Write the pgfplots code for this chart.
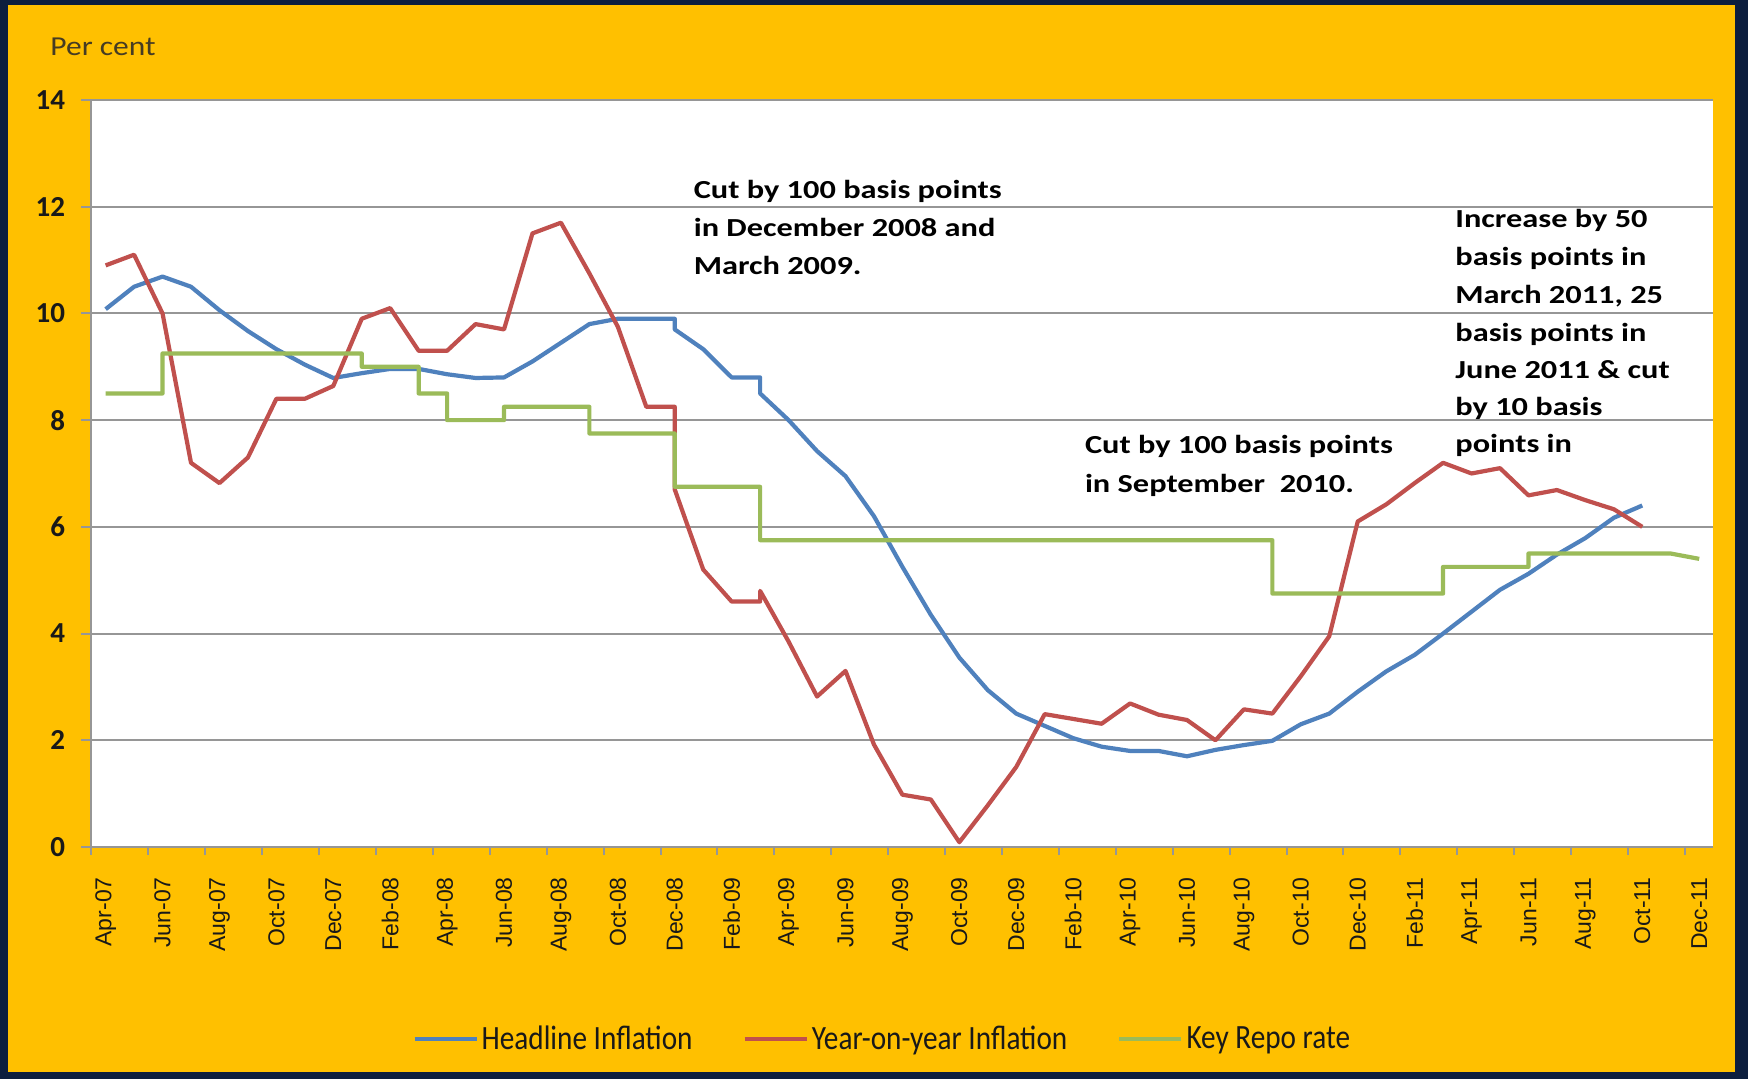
\documentclass[border=0pt]{standalone}
\usepackage{pgfplots}
\pgfplotsset{compat=1.18}
\usepackage{fontspec}
\setmainfont{Carlito}
\newfontfamily\arialfont{Liberation Sans}
\newfontfamily\legfont[FakeStretch=0.86]{Carlito}
\newfontfamily\annfont[FakeStretch=1.245]{Carlito}
\newfontfamily\pcfont[FakeStretch=1.15]{Carlito}

\definecolor{frame}{RGB}{12,30,62}
\definecolor{gold}{RGB}{255,192,0}
\definecolor{headline}{RGB}{79,129,189}
\definecolor{yoy}{RGB}{192,80,77}
\definecolor{repo}{RGB}{155,187,89}
\definecolor{gridgray}{RGB}{150,150,150}
\definecolor{labelink}{RGB}{25,25,25}
\definecolor{unitink}{RGB}{70,60,35}

\begin{document}
\begin{tikzpicture}
\useasboundingbox (0,0) rectangle (874pt,539.5pt);
% slide frame and gold panel
\fill[frame] (0,0) rectangle (874pt,539.5pt);
\fill[gold] (4pt,3.5pt) rectangle (867.5pt,537pt);

\node[anchor=base west, font=\pcfont\fontsize{13.7}{14}\selectfont, text=unitink, inner sep=0pt]
  at (25pt,511.7pt) {Per cent};

\begin{axis}[
  at={(45.7pt,116pt)}, anchor=south west,
  scale only axis, width=811pt, height=373.5pt,
  xmin=-0.5, xmax=56.5, ymin=0, ymax=14,
  axis background/.style={fill=white},
  axis lines*=left,
  axis line style={-, draw=gridgray, line width=1pt},
  every outer x axis line/.append style={-},
  every outer y axis line/.append style={-},
  ymajorgrids,
  grid style={draw=gridgray, line width=1pt},
  ytick={0,2,...,14},
  tick align=outside,
  major tick length=5pt,
  minor tick length=4pt,
  tick style={draw=gridgray, line width=1pt},
  major x tick style={draw=none},
  xtick={0,2,...,56},
  xticklabels={Apr-07,Jun-07,Aug-07,Oct-07,Dec-07,Feb-08,Apr-08,Jun-08,Aug-08,Oct-08,Dec-08,Feb-09,Apr-09,Jun-09,Aug-09,Oct-09,Dec-09,Feb-10,Apr-10,Jun-10,Aug-10,Oct-10,Dec-10,Feb-11,Apr-11,Jun-11,Aug-11,Oct-11,Dec-11},
  minor xtick={-0.5,1.5,...,55.5},
  xticklabel style={font=\arialfont\fontsize{11.5}{12}\selectfont, text=labelink, rotate=90, anchor=east, inner sep=0pt},
  xticklabel shift=10pt,
  yticklabel style={font=\bfseries\fontsize{14.5}{15}\selectfont, text=labelink, anchor=east, inner sep=0pt},
  yticklabel shift=8pt,
  /pgf/number format/assume math mode=true,
  legend columns=3,
  legend cell align=left,
  legend image code/.code={\draw[#1] (0pt,0pt) -- (31pt,0pt);},
  legend style={draw=none, fill=none, at={(0.1977,-0.257)}, anchor=west,
    inner sep=0pt, nodes={inner sep=0pt, text=labelink},
    font=\legfont\fontsize{17}{18}\selectfont,
    /tikz/every odd column/.append style={column sep=1.5pt},
    /tikz/every even column/.append style={column sep=25pt}},
  every axis plot/.append style={line width=2.1pt, line join=round, no markers},
]

% Headline inflation
\addplot[headline] coordinates {
(0,10.08) (1,10.5) (2,10.69) (3,10.5) (4,10.06) (5,9.67) (6,9.33) (7,9.04)
(8,8.79) (9,8.88) (10,8.96) (11,8.96) (12,8.86) (13,8.79) (14,8.8) (15,9.1)
(16,9.45) (17,9.8) (18,9.9) (19,9.9) (20,9.9) (20,9.7) (21,9.33) (22,8.8)
(23,8.8) (23,8.5) (24,8.0) (25,7.42) (26,6.95) (27,6.2) (28,5.25) (29,4.35)
(30,3.55) (31,2.94) (32,2.5) (33,2.27) (34,2.04) (35,1.88) (36,1.8) (37,1.8)
(38,1.7) (39,1.82) (40,1.91) (41,1.99) (42,2.3) (43,2.5) (44,2.91) (45,3.29)
(46,3.6) (47,4.0) (48,4.41) (49,4.82) (50,5.12) (51,5.48) (52,5.79) (53,6.17)
(54,6.4)
};
\addlegendentry{Headline Inflation}

% Year-on-year inflation
\addplot[yoy] coordinates {
(0,10.9) (1,11.1) (2,10.0) (3,7.2) (4,6.82) (5,7.3) (6,8.4) (7,8.4)
(8,8.64) (9,9.9) (10,10.1) (11,9.3) (12,9.3) (13,9.8) (14,9.7) (15,11.5)
(16,11.7) (17,10.75) (18,9.75) (19,8.25) (20,8.25) (20,6.7) (21,5.2) (22,4.6)
(23,4.6) (23,4.8) (24,3.85) (25,2.82) (26,3.3) (27,1.92) (28,0.98) (29,0.89)
(30,0.09) (31,0.78) (32,1.5) (33,2.49) (34,2.4) (35,2.31) (36,2.69) (37,2.48)
(38,2.38) (39,2.0) (40,2.58) (41,2.5) (42,3.2) (43,3.95) (44,6.1) (45,6.42)
(46,6.82) (47,7.2) (48,7.0) (49,7.1) (50,6.59) (51,6.69) (52,6.5) (53,6.33)
(54,6.0)
};
\addlegendentry{Year-on-year Inflation}

% Key repo rate (policy steps)
\addplot[repo] coordinates {
(0,8.5) (2,8.5) (2,9.25) (9,9.25) (9,9.0) (11,9.0) (11,8.5) (12,8.5)
(12,8.0) (14,8.0) (14,8.25) (17,8.25) (17,7.75) (20,7.75) (20,6.75) (23,6.75)
(23,5.75) (41,5.75) (41,4.75) (47,4.75) (47,5.25) (50,5.25) (50,5.5) (55,5.5)
(56,5.4)
};
\addlegendentry{Key Repo rate}
\end{axis}

% policy notes
\begin{scope}[every node/.style={anchor=base west, inner sep=0pt, text=black,
    font=\annfont\bfseries\fontsize{13}{13}\selectfont}]
\node at (346.7pt,440pt) {Cut by 100 basis points};
\node at (346.7pt,421pt) {in December 2008 and};
\node at (346.7pt,402pt) {March 2009.};

\node at (542.3pt,312.5pt) {Cut by 100 basis points};
\node at (542.3pt,293pt) {in September\ \ 2010.};

\node at (727.5pt,425.7pt) {Increase by 50};
\node at (727.5pt,406.7pt) {basis points in};
\node at (727.5pt,387.8pt) {March 2011, 25};
\node at (727.5pt,368.8pt) {basis points in};
\node at (727.5pt,350.3pt) {June 2011 \& cut};
\node at (727.5pt,331.5pt) {by 10 basis};
\node at (727.5pt,313pt) {points in};
\end{scope}
\end{tikzpicture}
\end{document}
